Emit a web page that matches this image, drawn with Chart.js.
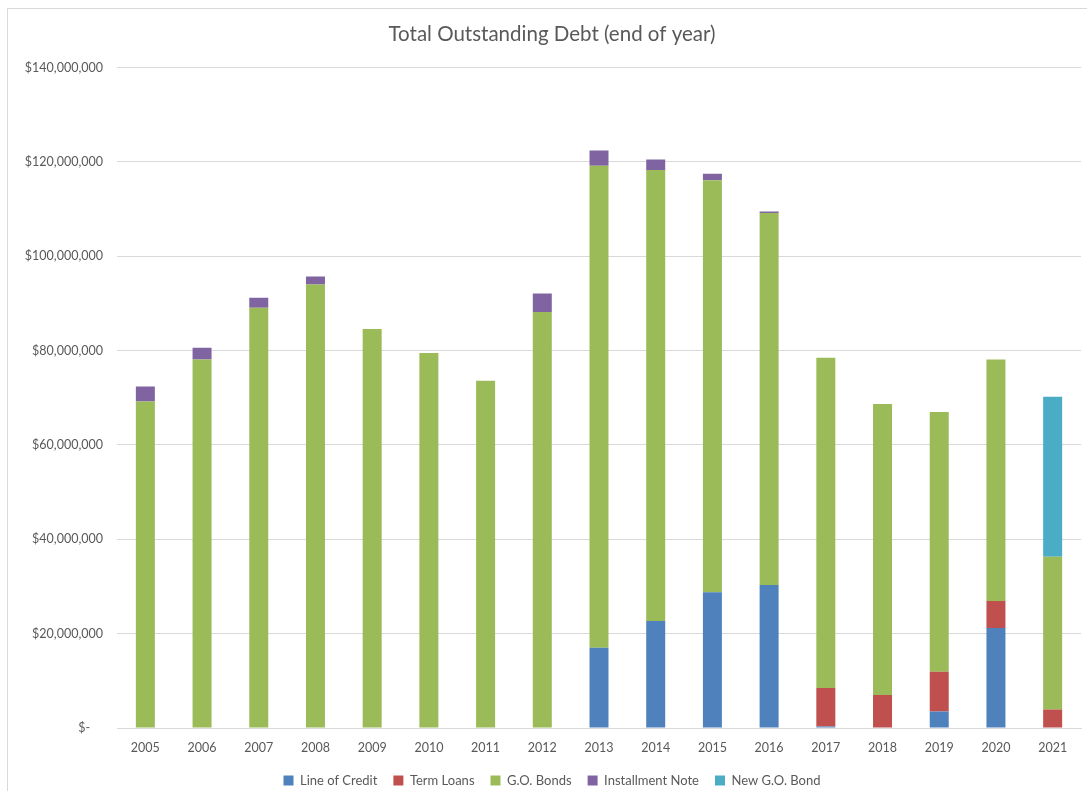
<!DOCTYPE html>
<html>
<head>
<meta charset="utf-8">
<script src="https://cdn.jsdelivr.net/npm/chart.js@4"></script>
<style>
  html, body { margin: 0; padding: 0; background: #fff; overflow: hidden; }
  #wrap {
    position: absolute; left: 7px; top: 8px;
    width: 1096px; height: 782px;
    border-left: 1px solid #d9d9d9;
    border-top: 1px solid #d9d9d9;
  }
</style>
</head>
<body>
<div id="wrap"><canvas id="debtChart" width="1096" height="782"></canvas></div>
<script>
// anos e saldos (em dólares)
const years = ['2005', '2006', '2007', '2008', '2009', '2010', '2011', '2012', '2013',
  '2014', '2015', '2016', '2017', '2018', '2019', '2020', '2021'];
const lineOfCredit = [0, 0, 0, 0, 0, 0, 0, 0, 17000000, 22700000, 28800000, 30300000,
  300000, 0, 3500000, 21200000, 0];
const termLoans = [0, 0, 0, 0, 0, 0, 0, 0, 0, 0, 0, 0,
  8200000, 7000000, 8400000, 5700000, 3900000];
const goBonds = [69200000, 78100000, 89100000, 94000000, 84600000, 79500000, 73600000,
  88200000, 102200000, 95600000, 87300000, 78900000, 70000000, 61700000, 55100000,
  51200000, 32400000];
const installmentNote = [3200000, 2500000, 2100000, 1700000, 0, 0, 0, 3900000, 3200000,
  2200000, 1400000, 300000, 0, 0, 0, 0, 0];
const newGoBond = [0, 0, 0, 0, 0, 0, 0, 0, 0, 0, 0, 0, 0, 0, 0, 0, 33900000];
const yTicks = [0, 20000000, 40000000, 60000000, 80000000, 100000000, 120000000, 140000000];

const fontFamily = "Lato, 'Open Sans', 'Liberation Sans', sans-serif";
const textColor = '#595959';

function serie(label, data, color) {
  return {
    label,
    data,
    backgroundColor: color,
    borderWidth: 0,
    barPercentage: 0.335,
    categoryPercentage: 1.0
  };
}

new Chart(document.getElementById('debtChart').getContext('2d'), {
  type: 'bar',
  data: {
    labels: years,
    datasets: [
      serie('Line of Credit', lineOfCredit, '#4f81bd'),
      serie('Term Loans', termLoans, '#c0504d'),
      serie('G.O. Bonds', goBonds, '#9bbb59'),
      serie('Installment Note', installmentNote, '#8064a2'),
      serie('New G.O. Bond', newGoBond, '#4bacc6')
    ]
  },
  options: {
    responsive: false,
    animation: false,
    layout: { padding: { left: 15, right: 23, top: 0, bottom: -6 } },
    plugins: {
      title: {
        display: true,
        text: 'Total Outstanding Debt (end of year)',
        color: textColor,
        font: { family: fontFamily, size: 20.5, weight: 'normal' },
        padding: { top: 13, bottom: 21 }
      },
      legend: {
        position: 'bottom',
        labels: {
          color: textColor,
          font: { family: fontFamily, size: 13 },
          boxWidth: 10,
          boxHeight: 10,
          padding: 16
        }
      },
      tooltip: { enabled: true }
    },
    scales: {
      x: {
        stacked: true,
        grid: { display: false, drawTicks: false },
        border: { color: '#d9d9d9' },
        ticks: { color: textColor, font: { family: fontFamily, size: 12.5 }, padding: 12 },
        afterFit: (axis) => { axis.height = 30; }
      },
      y: {
        stacked: true,
        min: 0,
        max: 140000000,
        afterBuildTicks: (axis) => { axis.ticks = yTicks.map(v => ({ value: v })); },
        grid: { color: '#d9d9d9', drawTicks: false },
        border: { display: false },
        ticks: {
          color: textColor,
          font: { family: fontFamily, size: 12.5 },
          padding: 14,
          callback: (v) => v === 0 ? '$-    ' : '$' + v.toLocaleString('en-US')
        },
        afterFit: (axis) => { axis.width = 94; }
      }
    }
  }
});
</script>
</body>
</html>
